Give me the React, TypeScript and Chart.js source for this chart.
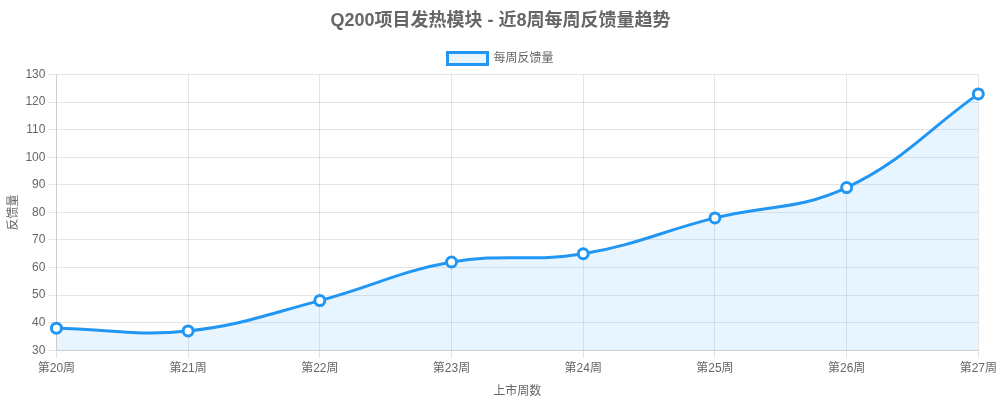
import React, { useEffect, useRef } from "react";
import { Chart, registerables } from "chart.js";

Chart.register(...registerables);

const categories = ["第20周", "第21周", "第22周", "第23周", "第24周", "第25周", "第26周", "第27周"];
const feedbackValues = [38, 37, 48, 62, 65, 78, 89, 123];
const seriesLabel = "每周反馈量";
const titleText = "Q200项目发热模块 - 近8周每周反馈量趋势";

const FONT = "'Liberation Sans', Arial, 'Noto Sans CJK SC', sans-serif";

export default function App() {
  const ref = useRef<HTMLCanvasElement | null>(null);
  useEffect(() => {
    document.body.style.margin = "0";
    const ctx = ref.current!;
    const chart = new Chart(ctx, {
      type: "line",
      data: {
        labels: categories,
        datasets: [
          {
            label: seriesLabel,
            data: feedbackValues,
            borderColor: "#2196F3",
            backgroundColor: "rgba(33,150,243,0.1)",
            borderWidth: 3,
            fill: true,
            tension: 0.4,
            pointRadius: 5,
            pointBorderWidth: 3,
            pointBackgroundColor: "#ffffff",
            pointBorderColor: "#2196F3",
          },
        ],
      },
      options: {
        responsive: false,
        animation: false,
        layout: { padding: { left: 4, right: 3, top: 0, bottom: 2 } },
        font: { family: FONT },
        plugins: {
          title: {
            display: true,
            text: titleText,
            color: "#666",
            font: { size: 18, weight: "bold", family: FONT },
            padding: { top: 10, bottom: 11 },
          },
          legend: {
            display: true,
            labels: { color: "#666", font: { size: 12, family: FONT }, boxWidth: 40, boxHeight: 12 },
          },
          tooltip: { enabled: false },
        },
        scales: {
          x: {
            offset: false,
            title: { display: true, text: "上市周数", color: "#666", font: { size: 12, family: FONT }, padding: { top: 6, bottom: 0 } },
            ticks: { color: "#666", font: { size: 12, family: FONT }, maxRotation: 0 },
            grid: { color: "rgba(0,0,0,0.1)" },
          },
          y: {
            min: 30,
            max: 130,
            title: { display: true, text: "反馈量", color: "#666", font: { size: 12, family: FONT }, padding: 2 },
            ticks: { color: "#666", stepSize: 10, font: { size: 12, family: FONT } },
            grid: { color: "rgba(0,0,0,0.1)" },
          },
        },
      },
    });
    return () => chart.destroy();
  }, []);
  return <canvas ref={ref} width={1000} height={401} style={{ display: "block" }} />;
}
